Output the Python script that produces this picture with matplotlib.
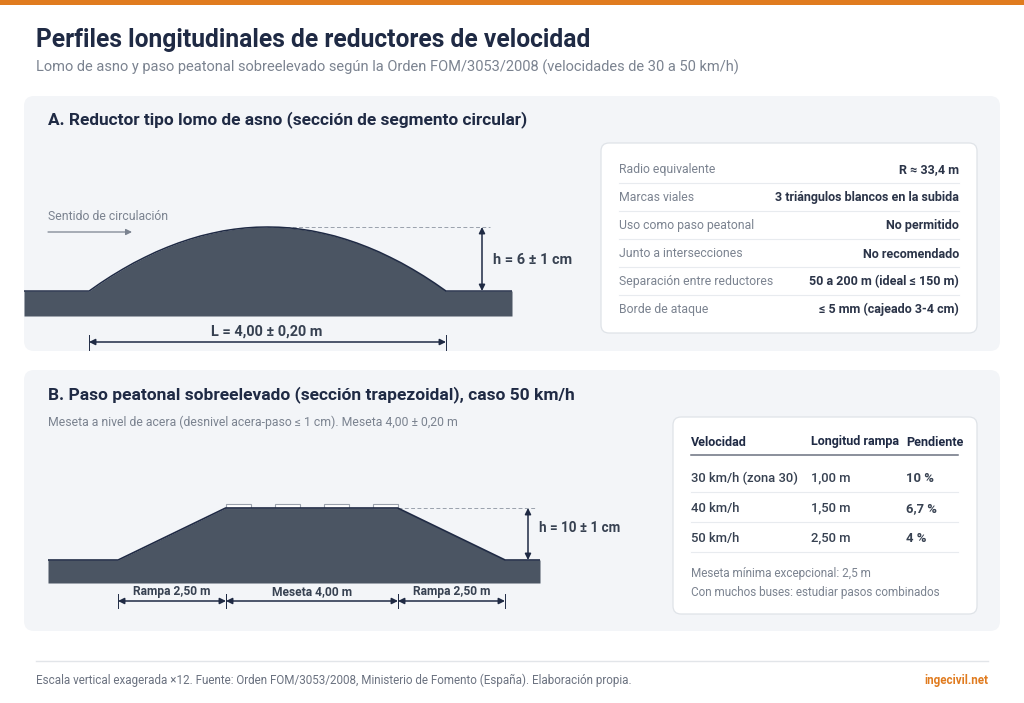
import matplotlib
matplotlib.use('Agg')
import matplotlib.pyplot as plt
from matplotlib.patches import FancyBboxPatch, Rectangle

plt.rcParams['font.family'] = ['Roboto', 'DejaVu Sans']

W, H = 1024, 703

# profile A: metres along the road, cm above the road surface
hump_x = [-0.73, 0, 0.125, 0.25, 0.375, 0.5, 0.625, 0.75, 0.875, 1, 1.125, 1.25, 1.375, 1.5, 1.625, 1.75, 1.875, 2,
          2.125, 2.25, 2.375, 2.5, 2.625, 2.75, 2.875, 3, 3.125, 3.25, 3.375, 3.5, 3.625, 3.75, 3.875, 4, 4.74]
hump_h = [0, 0, 0.73, 1.41, 2.04, 2.63, 3.16, 3.66, 4.10, 4.5, 4.85, 5.16, 5.41, 5.63, 5.79, 5.91, 5.98, 6,
          5.98, 5.91, 5.79, 5.63, 5.41, 5.16, 4.85, 4.5, 4.10, 3.66, 3.16, 2.63, 2.04, 1.41, 0.73, 0, 0]

# profile B: same units
raised_x = [-1.63, 0, 2.5, 6.5, 9, 9.81]
raised_h = [0, 0, 10, 10, 0, 0]
marks_x = [2.51, 3.65, 4.79, 5.93]

rows_a_label = ['Radio equivalente', 'Marcas viales', 'Uso como paso peatonal', 'Junto a intersecciones',
                'Separación entre reductores', 'Borde de ataque']
rows_a_value = ['R ≈ 33,4 m', '3 triángulos blancos en la subida', 'No permitido', 'No recomendado',
                '50 a 200 m (ideal ≤ 150 m)', '≤ 5 mm (cajeado 3-4 cm)']

speeds = ['30 km/h (zona 30)', '40 km/h', '50 km/h']
ramps = ['1,00 m', '1,50 m', '2,50 m']
slopes = ['10 %', '6,7 %', '4 %']

NAVY = '#1f2a44'
GREY = '#7b8390'
ROAD = '#4b5563'
PANEL = '#f3f5f8'
ORANGE = '#e07b1f'


def px(size):
    return size * 0.72


def label(ax, x, y, s, size, color=NAVY, weight='normal', ha='left'):
    # y is the visual middle of the x-height line, text sits on a baseline so rows stay level
    ax.text(x, y + size * 0.36, s, fontsize=px(size), color=color, fontweight=weight, ha=ha, va='baseline')


def box(ax, x0, y0, x1, y1, r, face, edge='none', lw=0):
    ax.add_patch(FancyBboxPatch((x0 + r, y0 + r), x1 - x0 - 2 * r, y1 - y0 - 2 * r,
                                boxstyle='round,pad=%d,rounding_size=%d' % (r, r),
                                fc=face, ec=edge, lw=lw))


def dim(ax, x0, y0, x1, y1):
    ax.annotate('', xy=(x1, y1), xytext=(x0, y0),
                arrowprops=dict(arrowstyle='<|-|>', color=NAVY, lw=1.1, mutation_scale=9,
                                shrinkA=0, shrinkB=0))


fig = plt.figure(figsize=(W / 100, H / 100), dpi=100, facecolor='white')
ax = fig.add_axes([0, 0, 1, 1])
ax.set_xlim(0, W)
ax.set_ylim(H, 0)
ax.axis('off')

ax.add_patch(Rectangle((0, 0), W, 4.5, fc=ORANGE, ec='none'))
label(ax, 36, 38, 'Perfiles longitudinales de reductores de velocidad', 24.6, weight='bold')
label(ax, 36, 66, 'Lomo de asno y paso peatonal sobreelevado según la Orden FOM/3053/2008 (velocidades de 30 a 50 km/h)',
      14.6, GREY)

box(ax, 24, 96, 1000, 351, 10, PANEL)
box(ax, 24, 370, 1000, 631, 10, PANEL)
label(ax, 48, 118.5, 'A. Reductor tipo lomo de asno (sección de segmento circular)', 17.3, weight='bold')
label(ax, 48, 393.5, 'B. Paso peatonal sobreelevado (sección trapezoidal), caso 50 km/h', 17.4, weight='bold')
label(ax, 48, 421.5, 'Meseta a nivel de acera (desnivel acera-paso ≤ 1 cm). Meseta 4,00 ± 0,20 m', 12.3, GREY)

# profile A, in metres and cm
ax_a = fig.add_axes([24 / W, 1 - 316 / H, 488 / W, 89 / H])
ax_a.set_xlim(-0.73, 4.74)
ax_a.set_ylim(-2.34, 6)
ax_a.axis('off')
ax_a.fill_between(hump_x, -2.34, hump_h, color=ROAD, lw=0)
ax_a.plot(hump_x, hump_h, color=NAVY, lw=1.1, clip_on=False, solid_capstyle='butt')

# profile B
ax_b = fig.add_axes([48 / W, 1 - 583 / H, 492 / W, 75 / H])
ax_b.set_xlim(-1.63, 9.81)
ax_b.set_ylim(-4.42, 10)
ax_b.axis('off')
ax_b.fill_between(raised_x, -4.42, raised_h, color=ROAD, lw=0)
ax_b.plot(raised_x, raised_h, color=NAVY, lw=1.2, clip_on=False, solid_capstyle='butt')
for m in marks_x:
    ax_b.add_patch(Rectangle((m, 10), 0.58, 0.8, fc='white', ec='#9aa1ac', lw=0.8, clip_on=False))

# dimensions A
label(ax, 48, 216, 'Sentido de circulación', 12.2, GREY)
ax.annotate('', xy=(132, 232), xytext=(48, 232),
            arrowprops=dict(arrowstyle='-|>', color=GREY, lw=0.9, mutation_scale=9, shrinkA=0, shrinkB=0))
ax.plot([267, 490], [227, 227], color='#9aa1ac', lw=0.7, dashes=(4, 2.5))
dim(ax, 482, 227, 482, 291)
label(ax, 493, 259, 'h = 6 ± 1 cm', 14.5, '#374151', 'bold')
dim(ax, 89, 342, 446, 342)
ax.plot([89, 89], [335, 350], color=NAVY, lw=0.7)
ax.plot([446, 446], [335, 350], color=NAVY, lw=0.7)
label(ax, 267, 330, 'L = 4,00 ± 0,20 m', 14.5, '#374151', 'bold', ha='center')

# dimensions B
ax.plot([398, 536], [508, 508], color='#9aa1ac', lw=0.7, dashes=(4, 2.5))
dim(ax, 528, 508, 528, 560)
label(ax, 539, 527, 'h = 10 ± 1 cm', 13.5, '#374151', 'bold')
for x0, x1, s in [(118, 226, 'Rampa 2,50 m'), (226, 398, 'Meseta 4,00 m'), (398, 505, 'Rampa 2,50 m')]:
    dim(ax, x0, 601, x1, 601)
    ax.plot([x0, x0], [594, 608], color=NAVY, lw=0.7)
    ax.plot([x1, x1], [594, 608], color=NAVY, lw=0.7)
    label(ax, (x0 + x1) / 2, 591, s, 12, '#374151', 'bold', ha='center')

# card A
box(ax, 601, 143, 977, 333, 8, 'white', '#dfe3e8', 0.9)
for i, (a, b) in enumerate(zip(rows_a_label, rows_a_value)):
    y = 169 + 28 * i
    label(ax, 619, y, a, 12.3, GREY)
    label(ax, 959, y, b, 12.5, '#2b3448', 'bold', ha='right')
    if i < 5:
        ax.plot([619, 959], [y + 14, y + 14], color='#e8ebef', lw=0.8)

# card B
box(ax, 673, 417, 977, 614, 8, 'white', '#dfe3e8', 0.9)
label(ax, 691, 441, 'Velocidad', 12.5, NAVY, 'bold')
label(ax, 811, 441, 'Longitud rampa', 12.5, NAVY, 'bold')
label(ax, 906, 441, 'Pendiente', 12.5, NAVY, 'bold')
ax.plot([691, 958], [455, 455], color='#6b7280', lw=1.1)
for i in range(3):
    y = 477 + 30 * i
    label(ax, 691, y, speeds[i], 13, '#374151', 'medium')
    label(ax, 811, y, ramps[i], 13, '#374151', 'medium')
    label(ax, 906, y, slopes[i], 13, '#374151', 'bold')
    ax.plot([691, 958], [y + 15, y + 15], color='#e8ebef', lw=0.8)
label(ax, 691, 573, 'Meseta mínima excepcional: 2,5 m', 11.7, GREY)
label(ax, 691, 592, 'Con muchos buses: estudiar pasos combinados', 11.7, GREY)

# footer
ax.plot([36, 988], [661, 661], color='#e2e5e9', lw=1)
label(ax, 36, 680, 'Escala vertical exagerada ×12. Fuente: Orden FOM/3053/2008, Ministerio de Fomento (España). Elaboración propia.',
      11.6, '#6b7280')
label(ax, 988, 680, 'ingecivil.net', 11.6, ORANGE, 'bold', ha='right')

fig.savefig('out.png', dpi=100)
